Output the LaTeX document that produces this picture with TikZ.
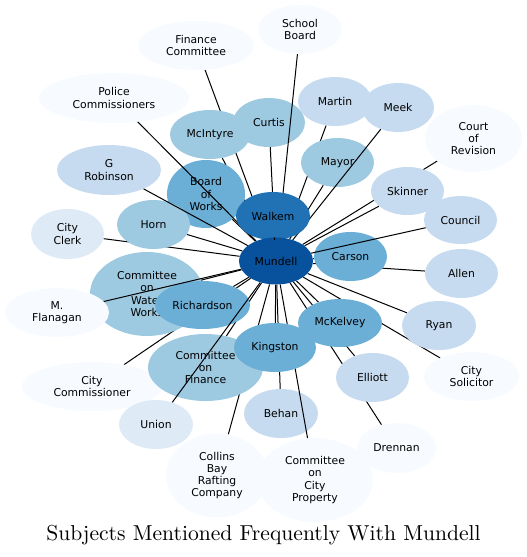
\documentclass[tikz,border=0pt]{standalone}
\usepackage{fontspec}
\newfontfamily\djv{DejaVu Sans}
\newfontfamily\cmten{lmroman10-regular.otf}
\usetikzlibrary{shapes.geometric}
\definecolor{b0}{HTML}{F7FBFF}
\definecolor{b1}{HTML}{DEEBF7}
\definecolor{b2}{HTML}{C6DBEF}
\definecolor{b3}{HTML}{9ECAE1}
\definecolor{b4}{HTML}{6BAED6}
\definecolor{b6}{HTML}{2171B5}
\definecolor{b7}{HTML}{08519C}
\pgfdeclarelayer{bg}
\pgfdeclarelayer{front}
\pgfdeclarelayer{top}
\pgfsetlayers{bg,main,front,top}
\tikzset{
  ent/.style={ellipse, draw=none, inner sep=0pt, align=center, text=black,
    font=\djv\fontsize{10.8}{12.2}\selectfont},
  link/.style={draw=black, line width=1pt},
}
\newcommand{\ent}[7]{\node[ent, fill=#5, minimum width=#3*2pt, minimum height=#4*2pt] (#6) at (#1,#2) {#7};}
\begin{document}
\begin{tikzpicture}[x=1pt,y=-1pt]
\useasboundingbox (0,0) rectangle (527,557);
\ent{114}{98}{75}{25}{b0}{police}{Police\\Commissioners}
\ent{196}{45.5}{58}{24.5}{b0}{fincom}{Finance\\Committee}
\ent{300}{29.5}{42}{24.5}{b0}{school}{School\\Board}
\ent{109}{170}{52}{25}{b2}{grob}{G\\Robinson}
\ent{210}{134.5}{40}{24.5}{b3}{mcintyre}{McIntyre}
\ent{269}{122.5}{36}{24.5}{b3}{curtis}{Curtis}
\ent{335}{101.5}{37}{24.5}{b2}{martin}{Martin}
\ent{398}{107.5}{36}{24.5}{b2}{meek}{Meek}
\ent{337.5}{162.5}{36.5}{24.5}{b3}{mayor}{Mayor}
\ent{473.5}{138.5}{48.5}{33.5}{b0}{court}{Court\\of\\Revision}
\ent{407.5}{191}{36.5}{24}{b2}{skinner}{Skinner}
\ent{460.5}{220}{36.5}{24}{b2}{council}{Council}
\ent{350.5}{256.5}{36.5}{24.5}{b4}{carson}{Carson}
\ent{461.5}{273.5}{36.5}{24.5}{b2}{allen}{Allen}
\ent{439}{325.5}{37}{24.5}{b2}{ryan}{Ryan}
\ent{340}{323}{42}{24}{b4}{mckelvey}{McKelvey}
\ent{471.5}{376.5}{47.5}{24.5}{b0}{solicitor}{City\\Solicitor}
\ent{372.5}{377.5}{36.5}{24.5}{b2}{elliott}{Elliott}
\ent{396.5}{448}{39.5}{25}{b0}{drennan}{Drennan}
\ent{147}{294}{57}{42}{b3}{coww}{Committee\\on\\Water\\Works}
\ent{57}{312.5}{52}{24.5}{b0}{flanagan}{M.\\Flanagan}
\ent{202.5}{305}{47.5}{24}{b4}{richardson}{Richardson}
\ent{92}{386.5}{70}{24.5}{b0}{citycom}{City\\Commissioner}
\ent{205.5}{367.5}{57.5}{33.5}{b3}{cof}{Committee\\on\\Finance}
\ent{156}{424.5}{37}{24.5}{b1}{union}{Union}
\ent{281}{413.5}{37}{24.5}{b2}{behan}{Behan}
\ent{217}{475.5}{51}{42}{b0}{collins}{Collins\\Bay\\Rafting\\Company}
\ent{315}{480}{58}{42}{b0}{cocp}{Committee\\on\\City\\Property}
\ent{67.5}{234}{36.5}{25}{b1}{clerk}{City\\Clerk}
\ent{206}{194}{39}{34}{b4}{bow}{Board\\of\\Works}
\ent{153.5}{224.5}{36.5}{24.5}{b3}{horn}{Horn}
\begin{pgfonlayer}{front}
\ent{275}{347.5}{41}{24.5}{b4}{kingston}{Kingston}
\ent{273}{216}{37}{24}{b6}{walkem}{Walkem}
\ent{276}{261}{37}{23.5}{b7}{mundell}{Mundell}
\end{pgfonlayer}
% edges hidden beneath the nodes
\begin{pgfonlayer}{bg}
\foreach \t in {fincom,mcintyre,curtis,martin,mayor,court,skinner,carson,allen,ryan,mckelvey,solicitor,elliott,drennan,coww,richardson,citycom,cof,behan,collins,clerk,bow,horn,kingston}
  \draw[link] (mundell) -- (\t);
\end{pgfonlayer}
% edges drawn over some nodes
\foreach \t in {police,school,grob,meek,council,flanagan,union,cocp}
  \draw[link] (mundell) -- (\t);
\begin{pgfonlayer}{top}
\draw[link] (mundell) -- (walkem);
\end{pgfonlayer}
\node[font=\cmten\fontsize{21.6}{25}\selectfont] (title) at (263.5,535) {Subjects Mentioned Frequently With Mundell};
\end{tikzpicture}
\end{document}
